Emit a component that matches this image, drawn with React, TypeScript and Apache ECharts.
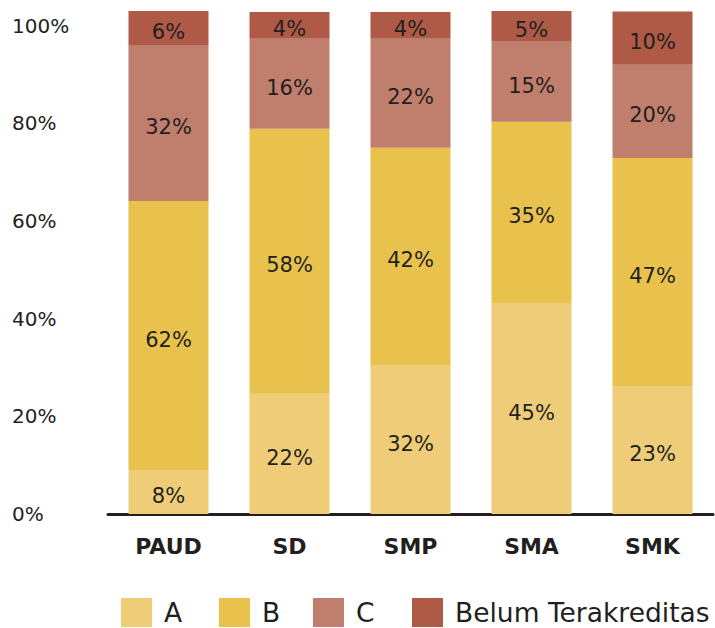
import React, { useEffect, useRef } from "react";
import * as echarts from "echarts";

const categories = ["PAUD", "SD", "SMP", "SMA", "SMK"];
const seriesNames = ["A", "B", "C", "Belum Terakreditas"];
const yTickValues = [0, 20, 40, 60, 80, 100];

// Segment heights as drawn in the picture (axis units, %)
const valuesA = [9.0, 24.6, 30.5, 43.2, 26.2];
const valuesB = [55.1, 54.3, 44.5, 37.1, 46.7];
const valuesC = [31.8, 18.4, 22.3, 16.4, 19.1];
const valuesD = [7.2, 5.5, 5.5, 6.4, 10.9];

// Printed labels
const labelsA = ["8%", "22%", "32%", "45%", "23%"];
const labelsB = ["62%", "58%", "42%", "35%", "47%"];
const labelsC = ["32%", "16%", "22%", "15%", "20%"];
const labelsD = ["6%", "4%", "4%", "5%", "10%"];

const colors = ["#EFCD78", "#E9C24E", "#C07E6C", "#AE5A46"];
const legendLefts = [121, 219, 313, 412];
const FONT = "DejaVu Sans";
const TEXT = "#231F20";

export default function App() {
  const ref = useRef<HTMLDivElement>(null);
  useEffect(() => {
    if (!ref.current) return;
    const chart = echarts.init(ref.current, null, { renderer: "svg" });
    const values = [valuesA, valuesB, valuesC, valuesD];
    const labels = [labelsA, labelsB, labelsC, labelsD];
    chart.setOption({
      animation: false,
      textStyle: { fontFamily: FONT },
      grid: { left: 108, right: 2, top: 11, bottom: 114, containLabel: false },
      legend: seriesNames.map((name, i) => ({
        data: [name],
        left: legendLefts[i],
        top: 598,
        padding: 0,
        itemWidth: 31,
        itemHeight: 29,
        icon: "rect",
        formatter: (n: string) => "{p|}" + n,
        textStyle: {
          fontSize: 26.5,
          color: TEXT,
          fontFamily: FONT,
          rich: { p: { width: 7 } },
        },
      })),
      xAxis: {
        type: "category",
        data: categories,
        axisLine: { lineStyle: { color: TEXT, width: 3 } },
        axisTick: { show: false },
        axisLabel: { fontSize: 22, fontWeight: "bold", color: TEXT, margin: 21, fontFamily: FONT },
      },
      yAxis: {
        type: "value",
        min: 0,
        max: 103,
        interval: 20,
        axisLine: { show: false },
        axisTick: { show: false },
        splitLine: { show: false },
        axisLabel: {
          align: "left",
          margin: 96,
          fontSize: 20,
          color: TEXT,
          fontFamily: FONT,
          formatter: (v: number) => (yTickValues.includes(v) ? v + "%" : ""),
        },
      },
      series: seriesNames.map((name, i) => ({
        name,
        type: "bar",
        stack: "total",
        barWidth: 80,
        itemStyle: { color: colors[i] },
        label: {
          show: true,
          position: "inside",
          offset: [0, 4],
          fontSize: 21,
          color: TEXT,
          fontFamily: FONT,
          formatter: (p: any) => labels[i][p.dataIndex],
        },
        data: values[i],
      })),
    });
    return () => chart.dispose();
  }, []);
  return <div ref={ref} style={{ width: 715, height: 628, position: "absolute", left: 0, top: 0 }} />;
}
